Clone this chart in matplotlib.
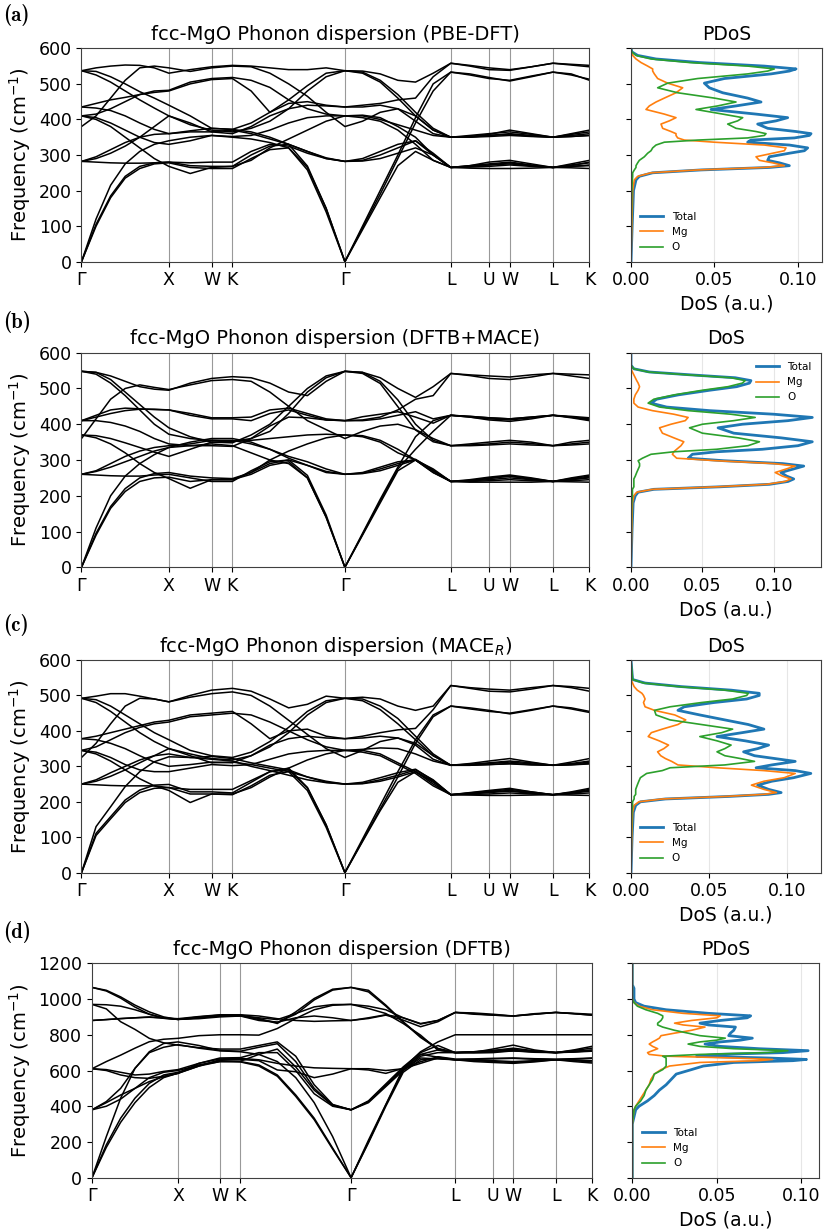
import matplotlib.pyplot as plt
import numpy as np

# high-symmetry path of the fcc Brillouin zone (shared by all panels)
path_labels = ['Γ', 'X', 'W', 'K', 'Γ', 'L', 'U', 'W', 'L', 'K']
path_pos = [0.0, 0.172, 0.256, 0.297, 0.5185, 0.727, 0.802, 0.843, 0.928, 1.0]
seg_steps = [6, 2, 1, 6, 6, 2, 1, 2, 2]

# band values (cm^-1) read at the sampled k-points:
# Γ g1..g5 X | xw W K | k1..k5 Γ | l1..l5 L | lu U W wl L lk K

# (a) PBE-DFT
a_bands = [
    [0, 120, 215, 275, 310, 330, 340, 350, 355, 350, 345, 335, 320, 265, 150, 0, 100, 200, 300, 405, 500, 533, 525, 515, 510, 522, 533, 525, 513],
    [0, 105, 185, 240, 268, 278, 280, 270, 268, 268, 300, 325, 330, 269, 150, 0, 95, 190, 290, 390, 480, 533, 528, 518, 508, 520, 533, 528, 510],
    [0, 100, 180, 235, 262, 275, 278, 265, 262, 262, 290, 315, 320, 258, 140, 0, 90, 180, 270, 310, 285, 265, 268, 272, 275, 270, 265, 268, 270],
    [537, 545, 550, 553, 552, 545, 530, 540, 548, 552, 550, 545, 540, 540, 545, 537, 536, 528, 510, 505, 530, 558, 552, 545, 540, 548, 558, 553, 548],
    [435, 445, 455, 462, 470, 476, 480, 500, 512, 515, 480, 420, 445, 450, 440, 435, 440, 445, 455, 460, 520, 558, 550, 540, 538, 548, 558, 555, 552],
    [537, 525, 505, 480, 455, 432, 410, 385, 370, 365, 375, 395, 430, 480, 520, 537, 530, 505, 460, 410, 370, 350, 355, 360, 365, 358, 350, 358, 365],
    [537, 535, 520, 500, 478, 460, 440, 410, 375, 372, 390, 420, 455, 495, 530, 537, 533, 510, 470, 420, 375, 350, 352, 355, 360, 355, 350, 355, 360],
    [435, 432, 425, 410, 390, 372, 360, 365, 365, 360, 380, 410, 430, 440, 438, 435, 435, 440, 430, 395, 360, 350, 350, 355, 358, 353, 350, 352, 355],
    [410, 405, 390, 370, 350, 335, 330, 340, 355, 352, 355, 370, 390, 405, 410, 410, 412, 405, 380, 350, 300, 265, 270, 275, 280, 272, 265, 270, 280],
    [410, 400, 380, 350, 320, 290, 268, 248, 265, 268, 285, 320, 345, 370, 395, 410, 405, 395, 370, 330, 285, 265, 263, 262, 262, 263, 265, 264, 262],
    [380, 410, 460, 510, 545, 550, 545, 535, 545, 550, 548, 530, 500, 465, 420, 380, 395, 420, 430, 410, 370, 350, 352, 358, 370, 360, 350, 360, 370],
    [282, 290, 305, 325, 350, 380, 410, 390, 365, 370, 360, 345, 330, 310, 290, 282, 290, 310, 330, 340, 300, 265, 268, 272, 278, 270, 265, 272, 278],
    [282, 280, 278, 277, 277, 278, 280, 278, 280, 280, 310, 330, 325, 305, 290, 282, 285, 300, 320, 340, 305, 265, 266, 268, 272, 268, 265, 268, 272],
    [282, 295, 315, 335, 350, 358, 360, 368, 375, 372, 365, 350, 330, 310, 292, 282, 283, 290, 305, 320, 300, 265, 270, 280, 285, 275, 265, 275, 285],
    [410, 415, 430, 450, 470, 480, 482, 505, 515, 518, 510, 490, 455, 430, 415, 410, 410, 400, 385, 370, 355, 350, 350, 352, 355, 352, 350, 352, 355],
]

# (b) DFTB+MACE
b_bands = [
    [0, 110, 200, 255, 290, 315, 335, 340, 345, 340, 320, 300, 290, 250, 140, 0, 95, 190, 280, 365, 410, 425, 420, 415, 412, 418, 425, 420, 412],
    [0, 95, 170, 220, 250, 262, 265, 255, 250, 248, 265, 290, 300, 257, 146, 0, 90, 180, 270, 300, 265, 240, 242, 245, 250, 245, 240, 245, 250],
    [0, 90, 165, 212, 240, 250, 252, 240, 245, 245, 260, 285, 295, 250, 140, 0, 92, 185, 275, 330, 380, 425, 422, 418, 415, 420, 425, 422, 418],
    [548, 545, 535, 520, 505, 498, 495, 515, 528, 533, 530, 515, 490, 480, 520, 548, 545, 530, 500, 475, 505, 542, 538, 535, 532, 538, 542, 540, 538],
    [410, 420, 430, 438, 442, 442, 440, 425, 415, 415, 410, 430, 440, 425, 412, 410, 412, 420, 440, 470, 480, 542, 536, 528, 525, 532, 542, 535, 528],
    [548, 540, 515, 480, 440, 400, 372, 360, 355, 352, 360, 380, 430, 490, 530, 548, 542, 514, 449, 384, 351, 340, 342, 345, 350, 346, 340, 345, 350],
    [548, 545, 525, 490, 455, 420, 390, 365, 350, 348, 370, 400, 450, 500, 535, 548, 545, 520, 468, 400, 355, 340, 340, 342, 345, 342, 340, 342, 345],
    [410, 410, 405, 395, 380, 360, 345, 340, 340, 338, 360, 395, 420, 418, 412, 410, 421, 428, 435, 420, 403, 425, 422, 418, 415, 420, 425, 420, 415],
    [370, 368, 360, 348, 335, 322, 310, 330, 350, 352, 355, 360, 365, 370, 372, 370, 365, 350, 320, 300, 270, 240, 240, 242, 245, 242, 240, 242, 245],
    [370, 362, 345, 320, 290, 265, 248, 221, 245, 245, 265, 300, 325, 345, 362, 370, 368, 355, 330, 300, 265, 240, 238, 238, 238, 238, 240, 239, 238],
    [360, 415, 470, 500, 510, 503, 497, 510, 522, 525, 520, 490, 450, 410, 385, 360, 380, 395, 400, 385, 360, 340, 345, 350, 355, 350, 340, 350, 355],
    [260, 268, 280, 295, 310, 325, 335, 350, 360, 360, 350, 330, 310, 295, 275, 260, 265, 280, 295, 300, 270, 240, 243, 248, 255, 248, 240, 248, 255],
    [260, 258, 256, 255, 255, 258, 260, 250, 240, 240, 270, 295, 300, 285, 265, 260, 262, 270, 285, 300, 275, 240, 242, 250, 255, 246, 240, 246, 252],
    [260, 270, 290, 310, 325, 335, 340, 345, 355, 355, 345, 330, 305, 285, 268, 260, 263, 275, 290, 302, 272, 240, 245, 252, 258, 250, 240, 250, 258],
    [410, 425, 440, 445, 443, 441, 440, 430, 418, 418, 420, 440, 445, 430, 415, 410, 410, 415, 425, 435, 415, 425, 420, 412, 408, 415, 425, 418, 410],
]

# (c) MACE_R
c_bands = [
    [0, 130, 186, 243, 285, 313, 327, 325, 328, 322, 310, 300, 290, 240, 135, 0, 95, 190, 285, 375, 445, 470, 462, 455, 450, 460, 470, 462, 452],
    [0, 111, 158, 205, 233, 247, 249, 228, 228, 225, 255, 285, 295, 240, 135, 0, 90, 180, 270, 365, 440, 470, 465, 458, 448, 458, 470, 465, 455],
    [0, 105, 152, 198, 226, 238, 240, 222, 222, 220, 245, 275, 285, 232, 128, 0, 88, 175, 255, 285, 250, 220, 224, 228, 232, 226, 220, 226, 232],
    [492, 498, 505, 505, 498, 490, 482, 500, 515, 520, 512, 490, 465, 475, 498, 492, 495, 490, 470, 458, 470, 528, 522, 518, 515, 522, 528, 525, 520],
    [378, 385, 395, 405, 415, 425, 430, 445, 450, 455, 420, 378, 400, 405, 385, 378, 385, 395, 403, 407, 460, 528, 520, 512, 510, 518, 528, 522, 512],
    [492, 480, 455, 425, 395, 370, 350, 335, 322, 318, 330, 355, 395, 445, 480, 492, 485, 460, 420, 375, 330, 303, 306, 310, 315, 310, 303, 308, 315],
    [492, 488, 470, 445, 420, 395, 375, 345, 330, 325, 340, 370, 410, 455, 485, 492, 490, 470, 435, 385, 335, 303, 305, 308, 312, 307, 303, 306, 312],
    [378, 375, 365, 350, 330, 312, 300, 305, 312, 310, 330, 360, 378, 385, 380, 378, 380, 385, 380, 360, 320, 303, 303, 305, 308, 305, 303, 305, 308],
    [345, 340, 325, 305, 290, 285, 285, 295, 305, 302, 305, 320, 335, 342, 345, 345, 345, 335, 310, 285, 255, 220, 225, 230, 235, 228, 220, 226, 235],
    [345, 335, 315, 290, 265, 245, 232, 198, 222, 222, 240, 270, 295, 318, 335, 345, 340, 330, 305, 280, 245, 220, 219, 218, 218, 219, 220, 219, 218],
    [325, 365, 420, 470, 492, 490, 482, 495, 505, 510, 500, 470, 430, 390, 350, 325, 345, 370, 380, 365, 330, 303, 308, 315, 322, 312, 303, 312, 322],
    [250, 258, 272, 290, 310, 330, 350, 330, 310, 312, 305, 295, 285, 270, 258, 250, 255, 268, 282, 292, 260, 220, 222, 226, 230, 224, 220, 224, 230],
    [250, 248, 246, 245, 245, 245, 240, 235, 235, 235, 260, 285, 290, 270, 255, 250, 252, 262, 275, 290, 262, 220, 221, 222, 225, 222, 220, 222, 225],
    [250, 262, 282, 300, 318, 330, 335, 325, 320, 315, 300, 288, 275, 262, 254, 250, 251, 258, 270, 285, 258, 220, 226, 232, 238, 228, 220, 228, 238],
    [345, 355, 375, 395, 410, 420, 425, 440, 445, 450, 445, 425, 400, 375, 355, 345, 348, 352, 350, 335, 315, 303, 303, 305, 307, 304, 303, 304, 307],
]

# (d) DFTB
d_bands = [
    [0, 230, 445, 612, 700, 730, 745, 725, 710, 705, 690, 650, 560, 420, 230, 0, 210, 410, 612, 690, 675, 660, 658, 655, 650, 655, 660, 658, 655],
    [0, 184, 333, 445, 528, 575, 590, 630, 655, 650, 631, 575, 463, 333, 166, 0, 200, 407, 600, 670, 665, 660, 655, 650, 645, 652, 660, 655, 648],
    [0, 170, 310, 420, 505, 560, 585, 625, 650, 648, 625, 568, 455, 325, 160, 0, 195, 400, 590, 660, 668, 660, 662, 665, 668, 663, 660, 663, 668],
    [1065, 1049, 1012, 966, 928, 900, 886, 900, 910, 910, 891, 863, 928, 1003, 1055, 1065, 1049, 966, 873, 789, 724, 701, 705, 712, 718, 708, 701, 708, 715],
    [1065, 1045, 1005, 955, 915, 892, 886, 895, 905, 908, 885, 870, 915, 995, 1050, 1065, 1040, 960, 870, 785, 720, 700, 703, 708, 712, 705, 700, 705, 710],
    [970, 968, 960, 940, 915, 895, 886, 890, 900, 905, 895, 885, 919, 956, 969, 970, 947, 919, 863, 798, 714, 700, 702, 705, 710, 705, 700, 703, 708],
    [970, 945, 873, 830, 780, 755, 742, 728, 720, 720, 740, 760, 680, 520, 410, 380, 426, 519, 612, 705, 760, 800, 800, 800, 800, 800, 800, 800, 800],
    [880, 885, 891, 895, 900, 893, 886, 895, 905, 905, 880, 870, 895, 905, 895, 880, 891, 910, 882, 845, 873, 925, 918, 910, 905, 915, 925, 918, 910],
    [610, 650, 686, 725, 761, 775, 780, 795, 800, 800, 798, 835, 891, 940, 965, 970, 960, 940, 895, 863, 880, 925, 915, 910, 905, 915, 925, 918, 910],
    [610, 600, 575, 560, 556, 568, 584, 625, 660, 662, 655, 603, 593, 560, 580, 610, 603, 584, 612, 649, 677, 664, 665, 668, 670, 666, 664, 666, 670],
    [380, 426, 500, 612, 705, 751, 760, 740, 712, 708, 730, 750, 650, 500, 407, 380, 430, 525, 620, 700, 740, 700, 705, 712, 725, 710, 700, 712, 725],
    [380, 420, 463, 500, 538, 565, 584, 640, 670, 672, 700, 700, 600, 470, 400, 380, 420, 510, 600, 680, 700, 700, 702, 720, 742, 715, 700, 715, 735],
    [380, 400, 440, 500, 560, 590, 600, 630, 650, 652, 690, 720, 620, 490, 405, 380, 425, 515, 605, 690, 715, 700, 698, 700, 710, 702, 700, 705, 712],
    [610, 605, 590, 575, 580, 595, 605, 640, 665, 668, 660, 640, 625, 615, 612, 610, 610, 600, 610, 640, 670, 660, 650, 645, 640, 648, 660, 650, 642],
    [880, 885, 890, 895, 898, 894, 890, 902, 912, 912, 905, 890, 880, 875, 878, 880, 895, 912, 895, 860, 880, 925, 922, 915, 905, 918, 925, 920, 915],
]

# density of states (frequency in cm^-1, DoS in a.u.)
a_freq = [0, 100, 200, 230, 240, 250, 258, 265, 270, 278, 285, 295, 305, 312, 320, 328, 336, 342, 348, 355, 360, 366, 375, 387, 396, 405, 415, 428, 438, 449, 460, 475, 489, 502, 515, 528, 536, 542, 550, 560, 570, 580, 590, 600]
a_total = [0, 0.0007, 0.0015, 0.003, 0.005, 0.013, 0.042, 0.083, 0.095, 0.089, 0.082, 0.083, 0.095, 0.104, 0.106, 0.095, 0.07, 0.072, 0.098, 0.107, 0.108, 0.099, 0.082, 0.076, 0.087, 0.094, 0.075, 0.048, 0.063, 0.078, 0.07, 0.055, 0.047, 0.044, 0.056, 0.084, 0.095, 0.099, 0.08, 0.041, 0.015, 0.004, 0.0005, 0]
a_mg = [0, 0.0005, 0.001, 0.002, 0.004, 0.012, 0.04, 0.08, 0.092, 0.085, 0.077, 0.075, 0.085, 0.092, 0.093, 0.08, 0.05, 0.032, 0.028, 0.027, 0.027, 0.024, 0.019, 0.018, 0.023, 0.027, 0.02, 0.009, 0.011, 0.015, 0.02, 0.027, 0.031, 0.022, 0.016, 0.014, 0.013, 0.013, 0.01, 0.006, 0.003, 0.001, 0, 0]
a_o = [0, 0.0002, 0.0005, 0.0008, 0.001, 0.001, 0.002, 0.003, 0.003, 0.004, 0.005, 0.008, 0.01, 0.012, 0.013, 0.015, 0.02, 0.04, 0.07, 0.08, 0.081, 0.075, 0.063, 0.058, 0.064, 0.067, 0.055, 0.039, 0.052, 0.063, 0.05, 0.028, 0.016, 0.022, 0.04, 0.07, 0.082, 0.086, 0.07, 0.035, 0.012, 0.003, 0.0005, 0]

b_freq = [0, 100, 180, 200, 210, 218, 225, 232, 240, 247, 255, 265, 274, 283, 290, 298, 305, 316, 323, 330, 340, 351, 362, 375, 390, 400, 410, 419, 428, 438, 448, 459, 470, 482, 495, 505, 515, 522, 530, 538, 546, 555, 565, 600]
b_total = [0, 0.0007, 0.0015, 0.003, 0.005, 0.016, 0.062, 0.097, 0.11, 0.114, 0.109, 0.105, 0.113, 0.121, 0.106, 0.065, 0.04, 0.043, 0.06, 0.092, 0.117, 0.127, 0.105, 0.072, 0.061, 0.078, 0.11, 0.127, 0.1, 0.055, 0.025, 0.014, 0.018, 0.033, 0.055, 0.074, 0.083, 0.084, 0.073, 0.042, 0.013, 0.002, 0, 0]
b_mg = [0, 0.0005, 0.001, 0.002, 0.004, 0.015, 0.06, 0.095, 0.108, 0.112, 0.106, 0.101, 0.108, 0.115, 0.1, 0.06, 0.032, 0.029, 0.03, 0.032, 0.035, 0.037, 0.03, 0.022, 0.02, 0.028, 0.038, 0.04, 0.03, 0.015, 0.005, 0.002, 0.002, 0.003, 0.005, 0.006, 0.005, 0.004, 0.003, 0.002, 0.001, 0, 0, 0]
b_o = [0, 0.0002, 0.0005, 0.001, 0.001, 0.001, 0.002, 0.002, 0.002, 0.002, 0.003, 0.004, 0.005, 0.006, 0.006, 0.005, 0.008, 0.014, 0.03, 0.06, 0.082, 0.09, 0.075, 0.05, 0.041, 0.05, 0.072, 0.087, 0.07, 0.04, 0.02, 0.012, 0.016, 0.03, 0.05, 0.068, 0.078, 0.08, 0.07, 0.04, 0.012, 0.002, 0, 0]

c_freq = [0, 100, 170, 190, 200, 208, 215, 221, 226, 235, 247, 258, 268, 280, 288, 296, 304, 314, 322, 330, 341, 350, 360, 372, 384, 395, 405, 418, 431, 445, 458, 468, 480, 490, 500, 506, 515, 525, 535, 545, 600]
c_total = [0, 0.0007, 0.0015, 0.003, 0.006, 0.022, 0.062, 0.088, 0.096, 0.088, 0.081, 0.09, 0.104, 0.115, 0.105, 0.08, 0.09, 0.105, 0.092, 0.079, 0.072, 0.081, 0.088, 0.073, 0.055, 0.071, 0.085, 0.075, 0.06, 0.044, 0.03, 0.034, 0.053, 0.074, 0.082, 0.082, 0.064, 0.032, 0.009, 0.001, 0]
c_mg = [0, 0.0005, 0.001, 0.002, 0.005, 0.02, 0.06, 0.085, 0.093, 0.085, 0.077, 0.085, 0.098, 0.105, 0.085, 0.055, 0.03, 0.026, 0.022, 0.019, 0.017, 0.021, 0.024, 0.018, 0.011, 0.013, 0.02, 0.03, 0.035, 0.028, 0.015, 0.009, 0.008, 0.009, 0.008, 0.007, 0.004, 0.002, 0.001, 0, 0]
c_o = [0, 0.0002, 0.0005, 0.001, 0.001, 0.002, 0.002, 0.003, 0.003, 0.003, 0.004, 0.005, 0.006, 0.01, 0.02, 0.025, 0.06, 0.079, 0.07, 0.06, 0.055, 0.06, 0.064, 0.055, 0.044, 0.058, 0.065, 0.045, 0.025, 0.016, 0.015, 0.025, 0.045, 0.065, 0.074, 0.075, 0.06, 0.03, 0.008, 0.001, 0]

d_freq = [0, 300, 380, 400, 430, 460, 490, 520, 550, 580, 605, 625, 645, 655, 662, 670, 680, 690, 700, 711, 722, 735, 748, 760, 770, 781, 795, 809, 825, 843, 855, 865, 880, 895, 906, 920, 940, 960, 980, 1000, 1060, 1080, 1200]
d_total = [0, 0, 0.002, 0.004, 0.009, 0.013, 0.016, 0.02, 0.023, 0.026, 0.035, 0.042, 0.06, 0.095, 0.103, 0.08, 0.038, 0.05, 0.089, 0.104, 0.075, 0.052, 0.043, 0.052, 0.064, 0.071, 0.057, 0.058, 0.06, 0.061, 0.045, 0.04, 0.052, 0.068, 0.07, 0.045, 0.02, 0.007, 0.002, 0.001, 0.001, 0, 0]
d_mg = [0, 0, 0.001, 0.002, 0.004, 0.006, 0.008, 0.01, 0.011, 0.013, 0.017, 0.022, 0.04, 0.075, 0.083, 0.06, 0.02, 0.01, 0.009, 0.012, 0.015, 0.012, 0.01, 0.012, 0.014, 0.016, 0.017, 0.025, 0.035, 0.043, 0.03, 0.025, 0.035, 0.05, 0.052, 0.03, 0.012, 0.004, 0.001, 0, 0, 0, 0]
d_o = [0, 0, 0.001, 0.002, 0.005, 0.007, 0.008, 0.01, 0.012, 0.013, 0.018, 0.02, 0.02, 0.02, 0.02, 0.02, 0.018, 0.04, 0.08, 0.092, 0.06, 0.04, 0.033, 0.04, 0.05, 0.055, 0.04, 0.033, 0.025, 0.018, 0.015, 0.015, 0.017, 0.018, 0.018, 0.015, 0.008, 0.003, 0.001, 0, 0, 0, 0]


def kgrid():
    pts = [0.0]
    for i, n in enumerate(seg_steps):
        pts.extend(np.linspace(path_pos[i], path_pos[i + 1], n + 1)[1:])
    return np.array(pts)


W, H = 829, 1230


def rect(x0, y0, x1, y1):
    # pixel box -> figure fraction
    return [x0 / W, 1 - y1 / H, (x1 - x0) / W, (y1 - y0) / H]


panels = [
    dict(tag='(a)', tag_y=4, title='fcc-MgO Phonon dispersion (PBE-DFT)', bands=a_bands,
         ymax=600, ystep=100, disp=(81.5, 48.3, 589.5, 261.7), dos=(631, 48.3, 821.7, 261.7),
         dos_title='PDoS', xmax=0.1144, leg='lower left',
         freq=a_freq, total=a_total, mg=a_mg, o=a_o),
    dict(tag='(b)', tag_y=311, title='fcc-MgO Phonon dispersion (DFTB+MACE)', bands=b_bands,
         ymax=600, ystep=100, disp=(81.5, 352.7, 589.5, 567.3), dos=(631, 352.7, 821, 567.3),
         dos_title='DoS', xmax=0.1331, leg='upper right',
         freq=b_freq, total=b_total, mg=b_mg, o=b_o),
    dict(tag='(c)', tag_y=614, title='fcc-MgO Phonon dispersion (MACE$_R$)', bands=c_bands,
         ymax=600, ystep=100, disp=(81.5, 660, 589.5, 872.7), dos=(631, 660, 821, 872.7),
         dos_title='DoS', xmax=0.1215, leg='lower left',
         freq=c_freq, total=c_total, mg=c_mg, o=c_o),
    dict(tag='(d)', tag_y=921, title='fcc-MgO Phonon dispersion (DFTB)', bands=d_bands,
         ymax=1200, ystep=200, disp=(92, 963.3, 591.7, 1177.7), dos=(632.3, 963.3, 819.3, 1177.7),
         dos_title='PDoS', xmax=0.1106, leg='lower left',
         freq=d_freq, total=d_total, mg=d_mg, o=d_o),
]

plt.rcParams['font.size'] = 12
plt.rcParams['axes.edgecolor'] = '0.25'

fig = plt.figure(figsize=(W / 100, H / 100), dpi=100)
k = kgrid()

for p in panels:
    ax = fig.add_axes(rect(*p['disp']))
    for b in p['bands']:
        ax.plot(k, b, color='k', lw=1.1)
    for x in path_pos[1:-1]:
        ax.axvline(x, color='0.6', lw=0.8, zorder=0)
    ax.set_xlim(0, 1)
    ax.set_ylim(0, p['ymax'])
    ax.set_yticks(np.arange(0, p['ymax'] + 1, p['ystep']))
    ax.set_xticks(path_pos)
    ax.set_xticklabels(path_labels)
    ax.tick_params(labelsize=12.5)
    ax.set_ylabel('Frequency (cm$^{-1}$)', fontsize=14)
    ax.set_title(p['title'], fontsize=14)

    ax2 = fig.add_axes(rect(*p['dos']))
    ax2.plot(p['total'], p['freq'], color='tab:blue', lw=2, label='Total')
    ax2.plot(p['mg'], p['freq'], color='tab:orange', lw=1.2, label='Mg')
    ax2.plot(p['o'], p['freq'], color='tab:green', lw=1.2, label='O')
    ax2.set_ylim(0, p['ymax'])
    ax2.set_yticks(np.arange(0, p['ymax'] + 1, p['ystep']))
    ax2.set_yticklabels([])
    ax2.set_xlim(0, p['xmax'])
    ax2.set_xticks([0, 0.05, 0.10])
    ax2.set_xticklabels(['0.00', '0.05', '0.10'])
    ax2.tick_params(labelsize=12.5)
    ax2.grid(axis='x', color='0.9', lw=0.8)
    ax2.set_xlabel('DoS (a.u.)', fontsize=13.5)
    ax2.set_title(p['dos_title'], fontsize=13.5)
    ax2.legend(loc=p['leg'], frameon=False, fontsize=7.5, handlelength=2.2)

    fig.text(3 / W, 1 - p['tag_y'] / H, p['tag'], fontsize=15, fontweight='bold',
             family=['cmb10', 'DejaVu Serif'], va='top', ha='left')

fig.savefig('out.png', dpi=100)
